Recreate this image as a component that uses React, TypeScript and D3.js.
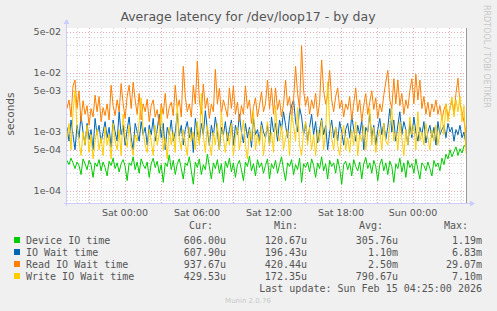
import React from "react";
import * as d3 from "d3";

const W = 497, H = 311;
const title = "Average latency for /dev/loop17 - by day";
const yLabel = "seconds";
const yTickValues = [5e-2, 1e-2, 5e-3, 1e-3, 5e-4, 1e-4];
const yTickLabels = ["5e-02", "1e-02", "5e-03", "1e-03", "5e-04", "1e-04"];
const endTime = new Date(Date.UTC(2026, 1, 15, 4, 25));
const startTime = new Date(endTime.getTime() - 399 * 5 * 60 * 1000);

// values in microseconds, 10-minute steps
const deviceIO = [
  330, 280, 360, 300, 240, 310, 270, 190, 350, 290, 230, 330, 280, 170, 300, 260, 340, 220, 310, 250,
  180, 320, 270, 360, 240, 300, 210, 290, 340, 260, 150, 300, 270, 380, 230, 310, 200, 350, 280, 240,
  310, 170, 290, 360, 250, 320, 200, 280, 140, 300, 260, 410, 230, 330, 190, 290, 350, 240, 160, 300,
  270, 380, 220, 130, 310, 250, 350, 190, 280, 230, 420, 260, 160, 300, 240, 340, 200, 290, 140, 320,
  250, 360, 210, 300, 170, 280, 330, 230, 150, 310, 260, 390, 220, 290, 180, 340, 250, 300, 200, 270,
  350, 160, 290, 240, 330, 200, 280, 380, 230, 150, 300, 260, 340, 190, 280, 230, 360, 140, 290, 250,
  310, 210, 350, 270, 170, 300, 240, 380, 220, 290, 160, 330, 260, 300, 200, 350, 240, 130, 280, 320,
  230, 300, 180, 340, 260, 220, 310, 160, 290, 370, 240, 300, 200, 330, 260, 150, 280, 350, 220, 300,
  190, 320, 260, 140, 290, 240, 360, 210, 300, 170, 330, 250, 290, 200, 350, 230, 160, 300, 270, 220,
  310, 240, 180, 330, 260, 300, 220, 360, 280, 420, 350, 500, 380, 460, 560, 400, 520, 440, 580, 606,
];
const ioWait = [
  1200, 700, 1600, 900, 500, 1300, 800, 1900, 1000, 600, 1400, 750, 1100, 500, 1700, 900, 1300, 650, 1000, 1500,
  800, 1200, 550, 1600, 1000, 700, 2200, 900, 1300, 600, 1100, 1800, 800, 500, 1400, 1000, 700, 1500, 900, 1200,
  600, 1300, 900, 1700, 700, 1100, 2000, 800, 1400, 500, 1200, 900, 1600, 700, 1000, 2100, 850, 1300, 600, 1100,
  1500, 800, 1200, 450, 1700, 1000, 700, 1400, 900, 2300, 1100, 600, 1300, 850, 1800, 1000, 500, 1200, 900, 1500,
  700, 1100, 1600, 600, 1300, 900, 2000, 1000, 650, 1400, 800, 1200, 550, 1700, 900, 1100, 700, 1500, 1000, 800,
  1300, 600, 1800, 1000, 1400, 700, 1600, 1100, 2200, 1300, 800, 1900, 2800, 3500, 1500, 1000, 2600, 1800, 900, 1400,
  700, 1200, 2000, 900, 1500, 650, 1100, 1700, 900, 1300, 500, 1000, 1600, 800, 1200, 700, 1500, 1000, 600, 1100,
  1400, 800, 1900, 1100, 700, 1300, 900, 1600, 500, 1200, 1000, 2000, 800, 1300, 600, 1100, 1700, 900, 1400, 750,
  1200, 2500, 1000, 1600, 700, 1300, 2200, 900, 1500, 1100, 600, 1400, 800, 1800, 1000, 700, 1200, 900, 1500, 650,
  1000, 1300, 800, 1200, 600, 1500, 900, 1100, 1300, 800, 1400, 1000, 1200, 700, 1100, 900, 1300, 800, 1000, 608,
];
const readIOWait = [
  2500, 3500, 1800, 6000, 7600, 2500, 5000, 1500, 3400, 2000, 2800, 1300, 2500, 1800, 4200, 2200, 4000, 1500, 2600, 1900,
  3000, 1600, 6200, 2800, 1900, 3500, 2200, 6600, 3000, 1700, 4000, 6200, 2500, 7000, 3500, 2000, 4500, 1600, 3000, 2200,
  3600, 1500, 2800, 3500, 1800, 2400, 1300, 3000, 2000, 4500, 1700, 2600, 3200, 1900, 6200, 2500, 3500, 1800, 13000, 4000,
  2200, 3000, 1800, 6200, 3000, 16000, 3500, 2000, 6500, 2500, 3800, 1700, 3000, 2200, 11500, 3000, 5500, 2000, 3500, 2600,
  1800, 5600, 2500, 6000, 2000, 3200, 1500, 2800, 2000, 6000, 2500, 3500, 1400, 2600, 3800, 1800, 2800, 4800, 2200, 3000,
  7600, 2500, 5600, 2000, 5600, 2400, 3500, 1800, 3000, 7600, 2800, 4000, 1700, 3500, 13000, 4500, 2500, 29070, 5000, 2800,
  4000, 2000, 3500, 2500, 4500, 1800, 3200, 16600, 5000, 3000, 4200, 11000, 3500, 2200, 4000, 5600, 2500, 3500, 1800, 3000,
  2400, 4000, 1600, 3000, 5600, 2200, 3500, 1500, 2800, 4500, 2000, 3200, 5000, 2400, 3800, 1700, 3000, 2200, 4200, 7000,
  11000, 3500, 2500, 8000, 3000, 7600, 2800, 4500, 2000, 3500, 2500, 5000, 8000, 3000, 9500, 3500, 7600, 2500, 4000, 2000,
  3200, 1800, 3000, 2200, 3500, 2000, 2800, 1600, 2400, 3000, 1800, 2500, 3500, 2000, 4500, 8200, 3000, 2200, 1500, 938,
];
const writeIOWait = [
  800, 1400, 500, 2200, 5000, 1200, 700, 400, 1000, 600, 1300, 450, 900, 350, 700, 1100, 500, 800, 400, 1200,
  600, 900, 350, 1400, 700, 500, 1100, 400, 2000, 800, 550, 1300, 600, 400, 900, 700, 1500, 3800, 1000, 600,
  450, 1100, 700, 400, 1300, 600, 900, 2500, 500, 800, 350, 1200, 600, 1000, 450, 3000, 800, 500, 1100, 650,
  400, 1200, 700, 1000, 500, 1500, 600, 4500, 900, 450, 1300, 700, 400, 1000, 600, 1400, 500, 2200, 800, 450,
  1000, 600, 1400, 400, 800, 1200, 500, 900, 1600, 600, 350, 1100, 700, 2300, 500, 900, 600, 1300, 400, 800,
  1500, 600, 1000, 450, 2800, 900, 700, 1300, 500, 800, 1100, 400, 2000, 1300, 700, 2600, 600, 400, 1000, 1500,
  600, 1200, 500, 900, 400, 1100, 700, 1600, 500, 1000, 7100, 1400, 800, 500, 1200, 600, 400, 900, 1300, 500,
  800, 450, 1100, 600, 1500, 400, 900, 700, 1300, 500, 1000, 2500, 600, 1200, 450, 800, 1100, 500, 1400, 700,
  600, 1300, 2500, 700, 1000, 500, 1500, 800, 400, 1100, 600, 1800, 900, 1300, 500, 2200, 700, 1000, 600, 1400,
  800, 500, 1100, 700, 1300, 600, 1000, 2000, 900, 3000, 1500, 2500, 3900, 1800, 3500, 2200, 4000, 1500, 2800, 430,
];

const seriesNames = ["Device IO time", "IO Wait time", "Read IO Wait time", "Write IO Wait time"];
const seriesColors = ["#00CC00", "#0066B3", "#FF8000", "#FFCC00"];
const seriesData = [deviceIO, ioWait, readIOWait, writeIOWait];
const curVals = ["606.00u", "607.90u", "937.67u", "429.53u"];
const minVals = ["120.67u", "196.43u", "420.44u", "172.35u"];
const avgVals = ["305.76u", "1.10m", "2.50m", "790.67u"];
const maxVals = ["1.19m", "6.83m", "29.07m", "7.10m"];
const lastUpdate = "Last update: Sun Feb 15 04:25:00 2026";
const credit = "Munin 2.0.76";
const watermark = "RRDTOOL / TOBI OETIKER";

export default function App() {
  const left = 67, right = 466, top = 28, bottom = 203;
  const x = d3.scaleTime().domain([startTime, endTime]).range([left, right]);
  const y = d3.scaleLog().domain([6.26e-5, 5.79e-2]).range([bottom, top]);

  const minorH: number[] = [];
  for (let e = -5; e <= -2; e++) {
    for (let m = 1; m <= 9; m++) {
      const v = m * Math.pow(10, e);
      if (v >= 6.26e-5 && v <= 5.79e-2) minorH.push(v);
    }
  }
  const isMajor = (v: number) => yTickValues.some((t) => Math.abs(t - v) / t < 1e-6);
  const hourTicks = d3.utcHour.every(1)!.range(startTime, endTime);
  const major3 = d3.utcHour.every(3)!.range(startTime, endTime);
  const labels6 = d3.utcHour.every(6)!.range(startTime, endTime);
  const fmt = d3.utcFormat("%a %H:%M");

  const line = (arr: number[]) => {
    const n = arr.length;
    const step = (endTime.getTime() - startTime.getTime()) / (n - 1);
    return d3
      .line<number>()
      .x((_, i) => x(new Date(startTime.getTime() + i * step)))
      .y((d) => y(d * 1e-6))(arr) as string;
  };

  const mono = "'DejaVu Sans Mono', monospace";
  const sans = "'DejaVu Sans', sans-serif";
  const txt = "#555";

  return (
    <svg width={W} height={H} style={{ position: "absolute", left: 0, top: 0, background: "#F0F0F0" }}>
      <rect x={0} y={0} width={W} height={H} fill="#F0F0F0" />
      <rect x={left} y={top} width={right - left} height={bottom - top} fill="#FFFFFF" />
      <text x={248} y={21} textAnchor="middle" fontFamily={sans} fontSize={12.5} fill={txt}>{title}</text>
      <text transform={`translate(14,${114}) rotate(-90)`} textAnchor="middle" fontFamily={sans} fontSize={10.5} fill={txt}>{yLabel}</text>
      <text transform={`translate(484,5) rotate(90)`} textAnchor="start" fontFamily={sans} fontSize={8} fill="#C8C8C8">{watermark}</text>
      {minorH.filter((v) => !isMajor(v)).map((v, i) => (
        <line key={"mh" + i} x1={left} x2={right} y1={Math.round(y(v)) + 0.5} y2={Math.round(y(v)) + 0.5} stroke="#D4D4D4" strokeDasharray="1,2" />
      ))}
      {hourTicks.map((t, i) => (
        <line key={"mv" + i} x1={Math.round(x(t)) + 0.5} x2={Math.round(x(t)) + 0.5} y1={top} y2={bottom} stroke="#D4D4D4" strokeDasharray="1,2" />
      ))}
      {yTickValues.map((v, i) => (
        <line key={"Mh" + i} x1={left} x2={right} y1={Math.round(y(v)) + 0.5} y2={Math.round(y(v)) + 0.5} stroke="#E7A9A9" strokeDasharray="1,2" />
      ))}
      {major3.map((t, i) => (
        <line key={"Mv" + i} x1={Math.round(x(t)) + 0.5} x2={Math.round(x(t)) + 0.5} y1={top} y2={bottom} stroke="#E7A9A9" strokeDasharray="1,2" />
      ))}
      {yTickValues.map((v, i) => (
        <text key={"yl" + i} x={61} y={y(v) + 3.5} textAnchor="end" fontFamily={sans} fontSize={9.5} fill={txt}>{yTickLabels[i]}</text>
      ))}
      {labels6.map((t, i) => (
        <text key={"xl" + i} x={x(t)} y={216} textAnchor="middle" fontFamily={sans} fontSize={9.5} fill={txt}>{fmt(t)}</text>
      ))}
      <g>
        {seriesData.map((arr, i) => (
          <path key={"s" + i} d={line(arr)} fill="none" stroke={seriesColors[i]} strokeWidth={1} />
        ))}
      </g>
      <line x1={left - 0.5} x2={left - 0.5} y1={bottom + 3} y2={top - 6} stroke="#CCCCFF" />
      <path d={`M${left - 3.5},${top - 4} L${left + 2.5},${top - 4} L${left - 0.5},${top - 9} Z`} fill="#CCCCFF" />
      <line x1={left - 3} x2={right + 6} y1={bottom + 0.5} y2={bottom + 0.5} stroke="#CCCCFF" />
      <path d={`M${right + 4},${bottom - 2.5} L${right + 4},${bottom + 3.5} L${right + 9},${bottom + 0.5} Z`} fill="#CCCCFF" />
      <line x1={right + 0.5} x2={right + 0.5} y1={top} y2={bottom} stroke="#999999" />
      <g fontFamily={mono} fontSize={10} fill={txt}>
        <text x={213} y={229} textAnchor="end">Cur:</text>
        <text x={298} y={229} textAnchor="end">Min:</text>
        <text x={383} y={229} textAnchor="end">Avg:</text>
        <text x={468} y={229} textAnchor="end">Max:</text>
        {seriesNames.map((n, i) => (
          <g key={"lg" + i}>
            <rect x={14} y={237 + i * 12} width={6} height={6} fill={seriesColors[i]} />
            <text x={26} y={243.5 + i * 12}>{n}</text>
            <text x={226} y={243.5 + i * 12} textAnchor="end">{curVals[i]}</text>
            <text x={307} y={243.5 + i * 12} textAnchor="end">{minVals[i]}</text>
            <text x={398} y={243.5 + i * 12} textAnchor="end">{avgVals[i]}</text>
            <text x={482} y={243.5 + i * 12} textAnchor="end">{maxVals[i]}</text>
          </g>
        ))}
        <text x={482} y={291.5} textAnchor="end">{lastUpdate}</text>
      </g>
      <text x={248} y={303} textAnchor="middle" fontFamily={sans} fontSize={7} fill="#C8C8C8">{credit}</text>
    </svg>
  );
}
